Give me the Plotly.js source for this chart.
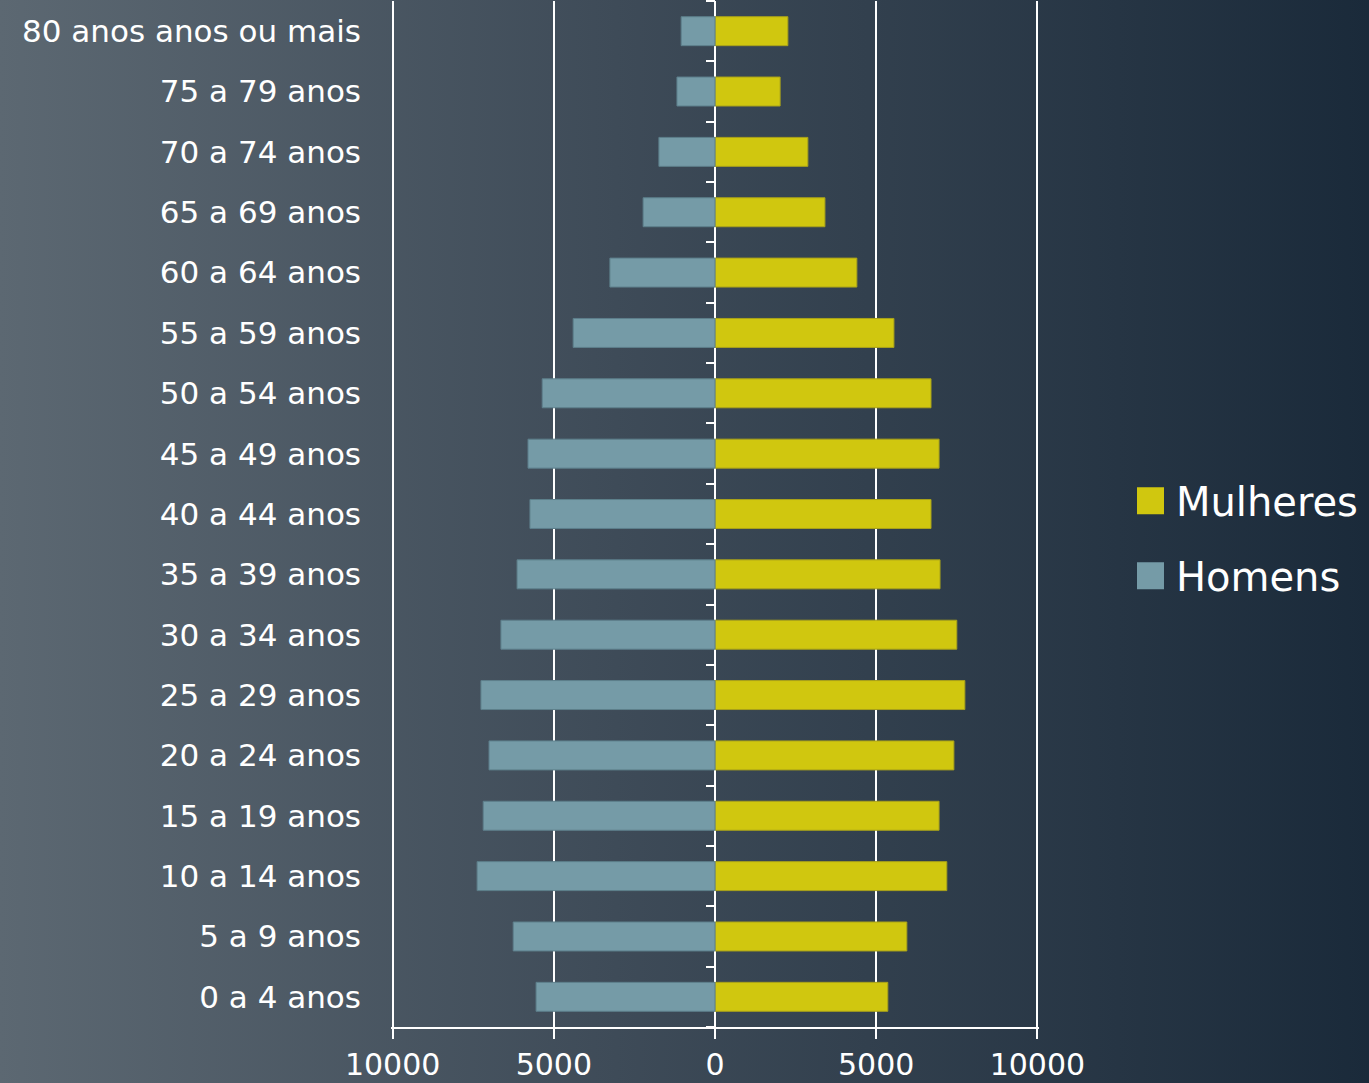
<!DOCTYPE html>
<html>
<head>
<meta charset="utf-8">
<script src="https://cdn.plot.ly/plotly-3.0.1.min.js"></script>
<style>
  html, body { margin:0; padding:0; }
  body { width:1369px; height:1083px; background: linear-gradient(to right, #5c6872 0%, #3e4b58 45%, #1a2a3a 100%); }
  #chart { width:1369px; height:1083px; }
</style>
</head>
<body>
<div id="chart"></div>
<script>
const categories = [
  "0 a 4 anos", "5 a 9 anos", "10 a 14 anos", "15 a 19 anos", "20 a 24 anos",
  "25 a 29 anos", "30 a 34 anos", "35 a 39 anos", "40 a 44 anos", "45 a 49 anos",
  "50 a 54 anos", "55 a 59 anos", "60 a 64 anos", "65 a 69 anos", "70 a 74 anos",
  "75 a 79 anos", "80 anos anos ou mais"
];
const homens = [5550, 6260, 7380, 7190, 7010, 7260, 6640, 6140, 5740, 5800, 5360, 4400, 3260, 2230, 1740, 1180, 1050];
const mulheres = [5360, 5950, 7190, 6950, 7410, 7750, 7500, 6980, 6700, 6950, 6700, 5550, 4400, 3410, 2880, 2020, 2260];
const xTickVals = [-10000, -5000, 0, 5000, 10000];
const xTickText = ["10000", "5000", "0", "5000", "10000"];

const FONT = "DejaVu Sans";

const traces = [
  {
    type: "bar", orientation: "h", name: "Mulheres", legendgroup: "m",
    y: categories, x: mulheres,
    marker: { color: "#d0c70f", line: { color: "#a9a21a", width: 1 } },
    hoverinfo: "none"
  },
  {
    type: "bar", orientation: "h", name: "Homens", legendgroup: "h",
    y: categories, x: homens.map(v => -v),
    marker: { color: "#759ba7", line: { color: "#5d7f8b", width: 1 } },
    hoverinfo: "none"
  }
];

const layout = {
  width: 1369, height: 1083,
  paper_bgcolor: "rgba(0,0,0,0)",
  plot_bgcolor: "rgba(0,0,0,0)",
  margin: { l: 391, r: 330, t: 1, b: 56 },
  barmode: "relative",
  bargap: 0.52,
  font: { family: FONT, color: "#ffffff", size: 31 },
  showlegend: true,
  legend: {
    xref: "container", yref: "container",
    x: 0.8298, xanchor: "left", y: 0.503, yanchor: "middle",
    font: { family: FONT, size: 40, color: "#ffffff" },
    bgcolor: "rgba(0,0,0,0)",
    itemwidth: 30,
    tracegroupgap: 20,
    traceorder: "grouped"
  },
  xaxis: {
    range: [-10050, 10050],
    tickmode: "array", tickvals: xTickVals, ticktext: xTickText,
    showgrid: true, gridcolor: "#ffffff", gridwidth: 2,
    zeroline: true, zerolinecolor: "#ffffff", zerolinewidth: 2,
    showline: true, linecolor: "#ffffff", linewidth: 2,
    ticks: "outside", ticklen: 10, tickwidth: 2, tickcolor: "#ffffff",
    ticklabelstandoff: 0,
    tickfont: { family: FONT, size: 30, color: "#ffffff" },
    fixedrange: true
  },
  yaxis: {
    type: "category",
    categoryorder: "array", categoryarray: categories,
    range: [-0.5, 16.5],
    anchor: "free", position: 0.5, side: "left",
    showgrid: false, zeroline: false, showline: false,
    ticks: "outside", tickson: "boundaries", ticklen: 9, tickwidth: 2, tickcolor: "#ffffff",
    ticklabelstandoff: 354,
    tickfont: { family: FONT, size: 31, color: "#ffffff" },
    fixedrange: true
  }
};

Plotly.newPlot("chart", traces, layout, { displayModeBar: false, staticPlot: true }).then(() => {
  document.querySelectorAll("#chart .legend .legendpoints path").forEach(p => {
    p.setAttribute("d", "M-19,-13.5h27v27h-27z");
    p.style.strokeWidth = "0px";
  });
});
</script>
</body>
</html>
